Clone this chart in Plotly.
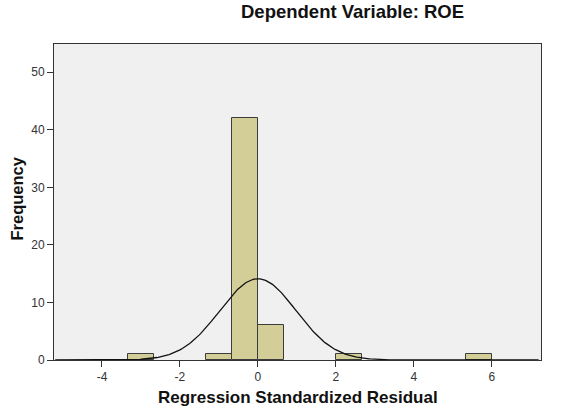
import numpy as np
import plotly.graph_objects as go

# Histogram bins (centers) and frequencies
bin_centers = [-3.0, -1.0, -1.0/3, 1.0/3, 7.0/3, 17.0/3]
counts = [1, 1, 42, 6, 1, 1]
bin_width = 2.0 / 3
# Normal curve parameters
mean_val = 0.0
std_val = 0.98
n_obs = 52

x_ticks = [-4, -2, 0, 2, 4, 6]
x_tick_text = ["-4", "-2", "0", "2", "4", "6"]
y_ticks = [0, 10, 20, 30, 40, 50]

xs = np.linspace(-5.2, 7.2, 400)
ys = n_obs * bin_width / (std_val * np.sqrt(2 * np.pi)) * np.exp(-0.5 * ((xs - mean_val) / std_val) ** 2)

fig = go.Figure()
fig.add_trace(go.Bar(x=bin_centers, y=counts, width=bin_width,
                     marker=dict(color="#d3ce97", line=dict(color="#3c3c3c", width=1))))
fig.add_trace(go.Scatter(x=xs, y=ys, mode="lines", line=dict(color="#111111", width=1.3)))

font = "Liberation Sans, Arial, sans-serif"
fig.update_layout(
    width=575, height=408,
    margin=dict(l=54, r=34, t=44, b=48),
    paper_bgcolor="white", plot_bgcolor="#f0f0f0",
    showlegend=False, bargap=0,
    font=dict(family=font, size=12, color="#333333"),
)
fig.add_annotation(text="<b>Dependent Variable: ROE</b>", xref="paper", yref="paper",
                   x=(352-54)/487, y=1 + (44-12)/316, xanchor="center", yanchor="middle",
                   showarrow=False, font=dict(size=18.5, color="#111111", family=font))
fig.add_annotation(text="<b>Regression Standardized Residual</b>", xref="paper", yref="paper",
                   x=(298-54)/487, y=-(397-360)/316, xanchor="center", yanchor="middle",
                   showarrow=False, font=dict(size=17, color="#111111", family=font))
fig.add_annotation(text="<b>Frequency</b>", xref="paper", yref="paper", textangle=-90,
                   x=-(54-16.5)/487, y=(360-199)/316, xanchor="center", yanchor="middle",
                   showarrow=False, font=dict(size=16.5, color="#111111", family=font))

fig.update_xaxes(range=[-5.23, 7.26], tickvals=x_ticks, ticktext=x_tick_text,
                 ticks="outside", ticklen=6,
                 tickcolor="#333333", showgrid=False, zeroline=False,
                 showline=True, linecolor="#333333", linewidth=1, mirror=True)
fig.update_yaxes(range=[0, 54.9], tickvals=y_ticks, ticks="outside", ticklen=6,
                 tickcolor="#333333", showgrid=False, zeroline=False,
                 showline=True, linecolor="#333333", linewidth=1, mirror=True)

fig.write_html("out.html")
